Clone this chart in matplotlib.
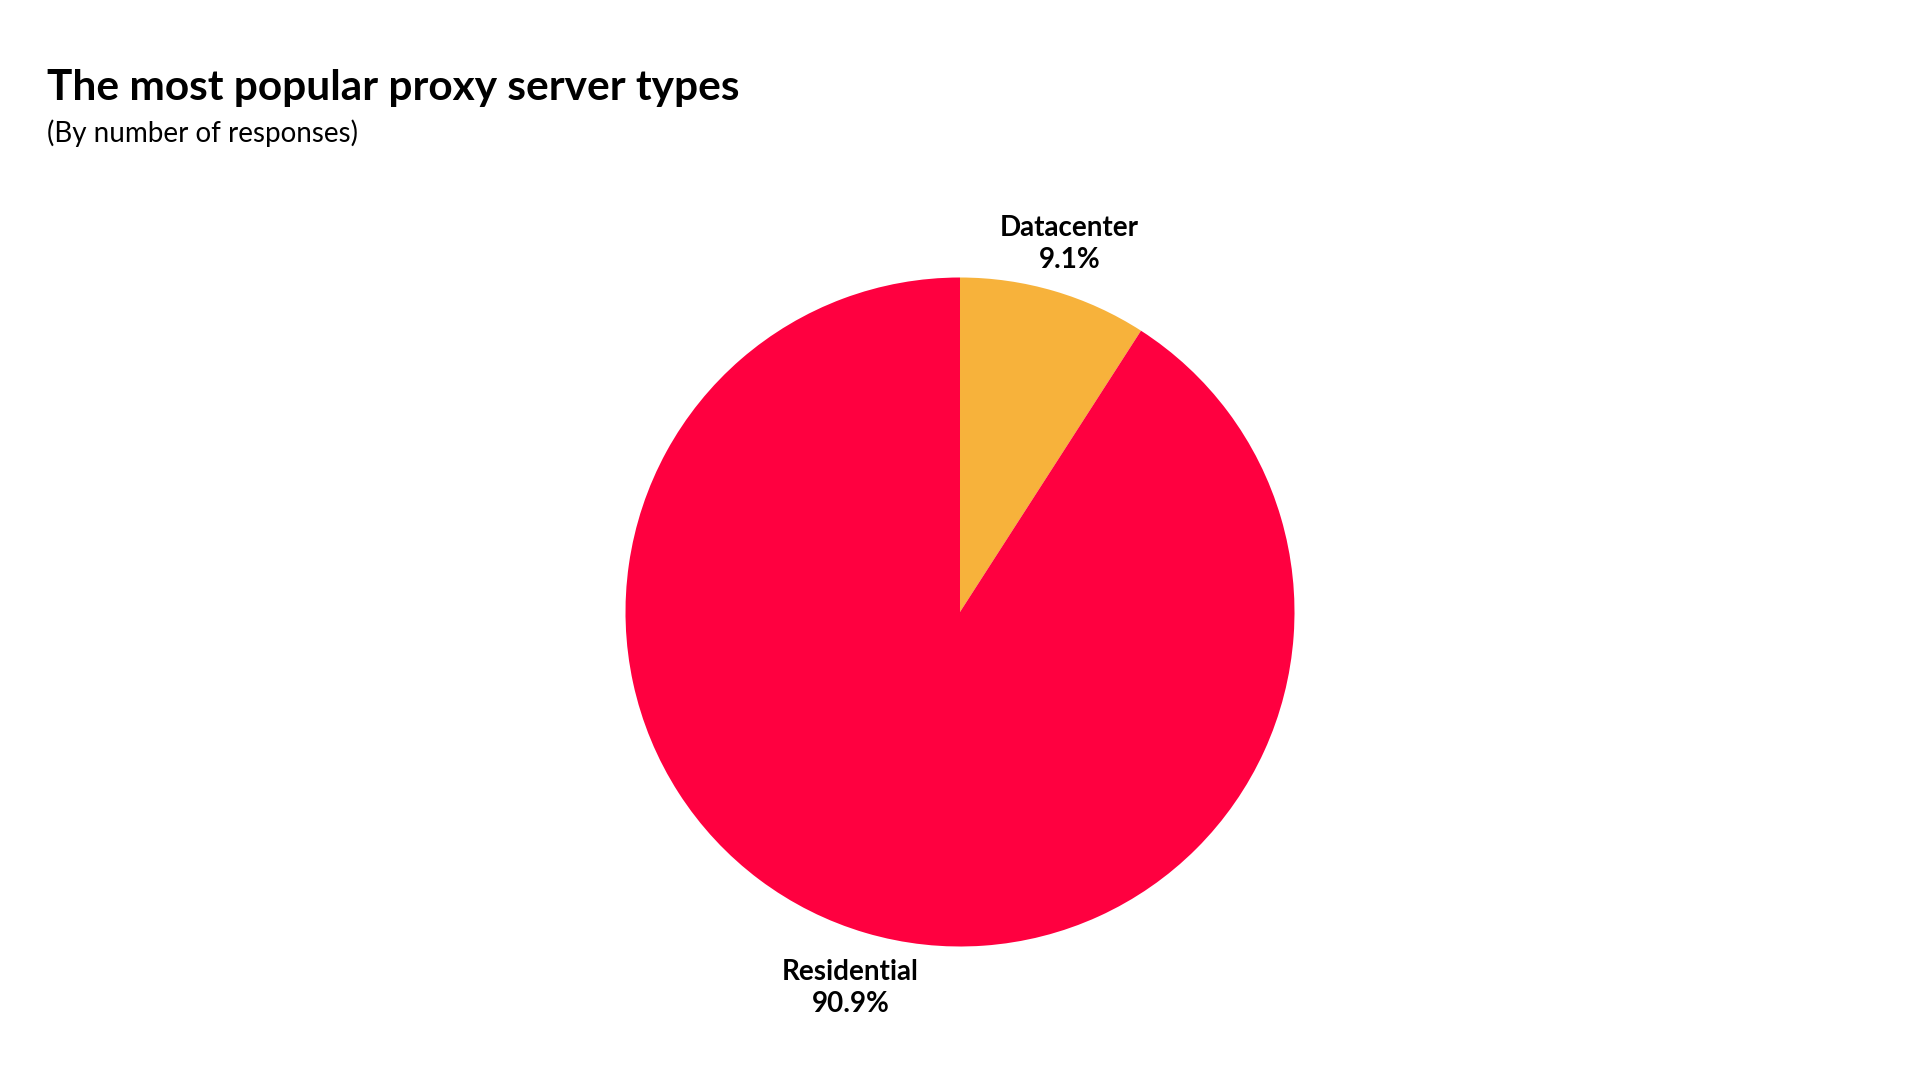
import matplotlib
matplotlib.use("Agg")
import matplotlib.pyplot as plt

# data
types = ["Datacenter", "Residential"]
shares = [9.1, 90.9]
colors = ["#F7B23B", "#FF0040"]

title = "The most popular proxy server types"
subtitle = "(By number of responses)"

plt.rcParams['font.family'] = ['Lato', 'DejaVu Sans']

W, H = 1920, 1080
fig = plt.figure(figsize=(W / 100, H / 100), dpi=100)
fig.patch.set_facecolor("white")

ax = fig.add_axes([0, 0, 1, 1])

labels = [f"{t}\n{v:.1f}%" for t, v in zip(types, shares)]
wedges, texts = ax.pie(shares, labels=labels, colors=colors, startangle=90,
                       counterclock=False, labeldistance=1.16,
                       wedgeprops=dict(linewidth=0),
                       textprops=dict(fontsize=20, fontweight='bold', color='black'))
for t in texts:
    t.set_horizontalalignment('center')
    t.set_verticalalignment('center')
    t.set_multialignment('center')
    t.set_linespacing(1.28)
    x, y = t.get_position()
    t.set_position((x, y - 0.012))

# pie centre at (960, 612) px, radius 334.5 px
r = 334.5
cx, cy = 960, 612
ax.set_xlim(-cx / r, (W - cx) / r)
ax.set_ylim(-(H - cy) / r, cy / r)
ax.set_aspect('equal')
ax.axis('off')

fig.text(47 / W, 1 - 100 / H, title, fontsize=30.5, fontweight='bold',
         va='baseline', ha='left')
fig.text(47 / W, 1 - 142 / H, subtitle, fontsize=20, va='baseline', ha='left')

fig.savefig("out.png", dpi=100, facecolor="white")
